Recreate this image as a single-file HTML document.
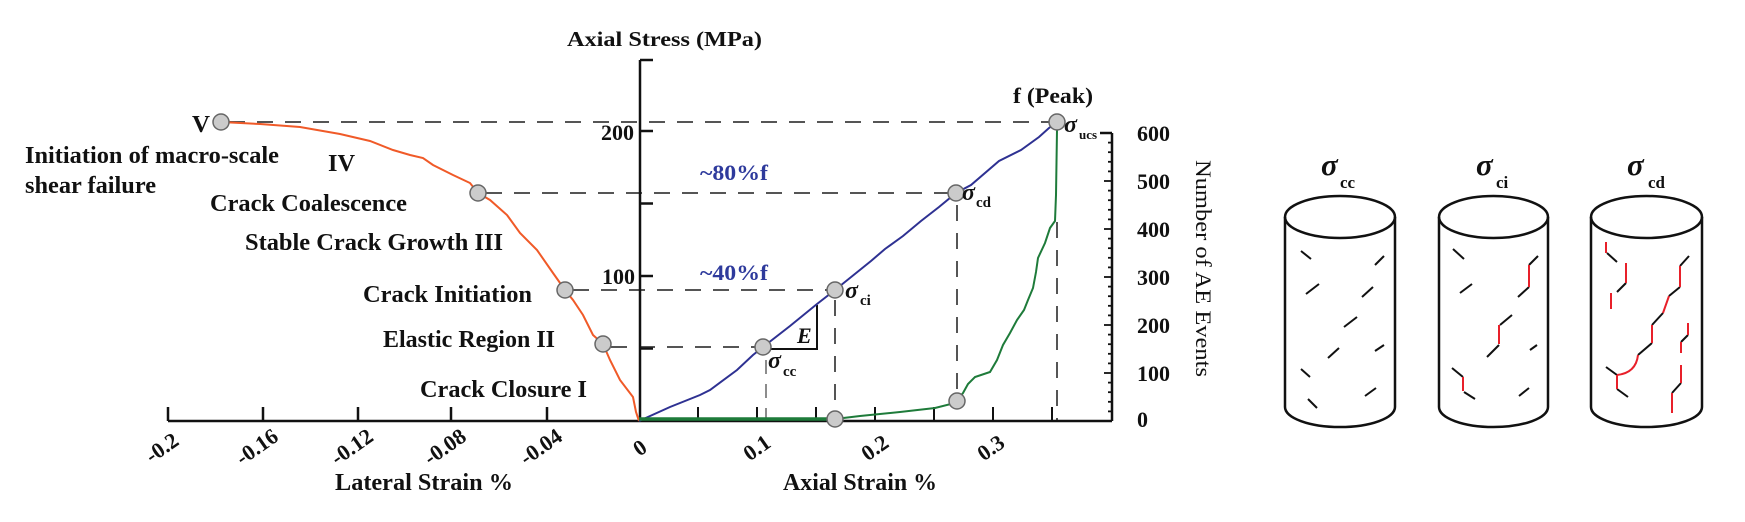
<!DOCTYPE html>
<html><head><meta charset="utf-8"><style>
html,body{margin:0;padding:0;background:#fff;}
svg{display:block;}
text{font-family:"Liberation Serif",serif;}
.b{font-weight:bold;fill:#111;}
</style></head><body>
<svg width="1745" height="522" viewBox="0 0 1745 522" xmlns="http://www.w3.org/2000/svg">
<rect width="1745" height="522" fill="#fff"/>
<!-- dashed guide lines -->
<g stroke="#555" stroke-width="2" stroke-dasharray="16 12" fill="none">
<line x1="229" y1="122" x2="1049" y2="122"/>
<line x1="486" y1="193" x2="948" y2="193"/>
<line x1="573" y1="290" x2="827" y2="290"/>
<line x1="611" y1="347" x2="755" y2="347"/>
<line x1="835" y1="300" x2="835" y2="411"/>
<line x1="957" y1="205" x2="957" y2="392"/>
<line x1="1057" y1="222" x2="1057" y2="421"/>
</g>
<line x1="766" y1="360" x2="766" y2="421" stroke="#666" stroke-width="1.5" stroke-dasharray="14 10"/>
<!-- axes -->
<g stroke="#111" stroke-width="2.5" fill="none">
<line x1="168" y1="421" x2="1112" y2="421"/>
<line x1="640" y1="60" x2="640" y2="421"/>
<line x1="640" y1="60" x2="653" y2="60"/>
<line x1="640" y1="131" x2="653" y2="131"/>
<line x1="640" y1="203.5" x2="653" y2="203.5"/>
<line x1="640" y1="276" x2="653" y2="276"/>
<line x1="640" y1="348.5" x2="653" y2="348.5"/>
<line x1="168" y1="407" x2="168" y2="421"/>
<line x1="263" y1="407" x2="263" y2="421"/>
<line x1="358" y1="407" x2="358" y2="421"/>
<line x1="451" y1="407" x2="451" y2="421"/>
<line x1="547" y1="407" x2="547" y2="421"/>
<line x1="698" y1="407" x2="698" y2="421" stroke-width="2"/>
<line x1="757" y1="407" x2="757" y2="421" stroke-width="2"/>
<line x1="816" y1="407" x2="816" y2="421" stroke-width="2"/>
<line x1="875" y1="407" x2="875" y2="421" stroke-width="2"/>
<line x1="934" y1="407" x2="934" y2="421" stroke-width="2"/>
<line x1="993" y1="407" x2="993" y2="421" stroke-width="2"/>
<line x1="1052" y1="407" x2="1052" y2="421" stroke-width="2"/>
<line x1="1112" y1="133" x2="1112" y2="421"/>
<line x1="1100" y1="133" x2="1112" y2="133"/>
</g>
<!-- AE axis ticks -->
<g stroke="#111" stroke-width="1.8">
<line x1="1104" y1="181" x2="1112" y2="181"/>
<line x1="1104" y1="229" x2="1112" y2="229"/>
<line x1="1104" y1="277" x2="1112" y2="277"/>
<line x1="1104" y1="325" x2="1112" y2="325"/>
<line x1="1104" y1="373" x2="1112" y2="373"/>
<line x1="1108" y1="142.6" x2="1112" y2="142.6"/><line x1="1108" y1="152.2" x2="1112" y2="152.2"/><line x1="1108" y1="161.8" x2="1112" y2="161.8"/><line x1="1108" y1="171.4" x2="1112" y2="171.4"/>
<line x1="1108" y1="190.6" x2="1112" y2="190.6"/><line x1="1108" y1="200.2" x2="1112" y2="200.2"/><line x1="1108" y1="209.8" x2="1112" y2="209.8"/><line x1="1108" y1="219.4" x2="1112" y2="219.4"/>
<line x1="1108" y1="238.6" x2="1112" y2="238.6"/><line x1="1108" y1="248.2" x2="1112" y2="248.2"/><line x1="1108" y1="257.8" x2="1112" y2="257.8"/><line x1="1108" y1="267.4" x2="1112" y2="267.4"/>
<line x1="1108" y1="286.6" x2="1112" y2="286.6"/><line x1="1108" y1="296.2" x2="1112" y2="296.2"/><line x1="1108" y1="305.8" x2="1112" y2="305.8"/><line x1="1108" y1="315.4" x2="1112" y2="315.4"/>
<line x1="1108" y1="334.6" x2="1112" y2="334.6"/><line x1="1108" y1="344.2" x2="1112" y2="344.2"/><line x1="1108" y1="353.8" x2="1112" y2="353.8"/><line x1="1108" y1="363.4" x2="1112" y2="363.4"/>
<line x1="1108" y1="382.6" x2="1112" y2="382.6"/><line x1="1108" y1="392.2" x2="1112" y2="392.2"/><line x1="1108" y1="401.8" x2="1112" y2="401.8"/><line x1="1108" y1="411.4" x2="1112" y2="411.4"/>
</g>
<!-- E triangle -->
<polyline points="771,349 817,349 817,305" fill="none" stroke="#111" stroke-width="2"/>
<!-- curves -->
<path d="M221,122 L260,124 L300,127 L340,134 L370,141 L393,150 L410,155 L423,158 L433,165 L453,175 L470,183 L478,193 L490,200 L507,215 L520,233 L537,250 L553,273 L565,290 L573,300 L583,315 L593,335 L603,344 L610,360 L620,380 L633,397 L636,412 L639,421" fill="none" stroke="#f05a28" stroke-width="2"/>
<path d="M639,421 L670,407 L700,395 L710,390 L737,370 L753,355 L763,347 L790,326 L817,304 L835,290 L871,261 L885,249 L903,236 L921,221 L939,207 L956,193 L971,185 L999,161 L1021,150 L1039,137 L1049,128 L1057,122" fill="none" stroke="#2e3192" stroke-width="2"/>
<path d="M639,419 L835,419" stroke="#1e7b3a" stroke-width="3.5" fill="none"/>
<path d="M835,419 L860,416 L900,412 L935,408 L951,404 L957,400 L963,393 L968,384 L975,377 L990,372 L997,360 L1003,345 L1010,333 L1017,320 L1024,310 L1028,300 L1033,288 L1036,272 L1038,258 L1045,243 L1050,228 L1055,221 L1056,195 L1057,130" fill="none" stroke="#1e7b3a" stroke-width="2"/>
<!-- circles -->
<g fill="#cbcbcb" stroke="#666" stroke-width="1.5">
<circle cx="221" cy="122" r="8"/>
<circle cx="478" cy="193" r="8"/>
<circle cx="565" cy="290" r="8"/>
<circle cx="603" cy="344" r="8"/>
<circle cx="763" cy="347" r="8"/>
<circle cx="835" cy="290" r="8"/>
<circle cx="956" cy="193" r="8"/>
<circle cx="1057" cy="122" r="8"/>
<circle cx="835" cy="419" r="8"/>
<circle cx="957" cy="401" r="8"/>
</g>
<!-- left labels -->
<g class="b" font-size="24">
<text x="192" y="132" textLength="18" lengthAdjust="spacingAndGlyphs">V</text>
<text x="25" y="163" textLength="254" lengthAdjust="spacingAndGlyphs">Initiation of macro-scale</text>
<text x="25" y="193" textLength="131" lengthAdjust="spacingAndGlyphs">shear failure</text>
<text x="328" y="171" textLength="27" lengthAdjust="spacingAndGlyphs">IV</text>
<text x="210" y="211" textLength="197" lengthAdjust="spacingAndGlyphs">Crack Coalescence</text>
<text x="245" y="250" textLength="258" lengthAdjust="spacingAndGlyphs">Stable Crack Growth III</text>
<text x="363" y="302" textLength="169" lengthAdjust="spacingAndGlyphs">Crack Initiation</text>
<text x="383" y="347" textLength="172" lengthAdjust="spacingAndGlyphs">Elastic Region II</text>
<text x="420" y="397" textLength="167" lengthAdjust="spacingAndGlyphs">Crack Closure I</text>
<text x="335" y="490" textLength="178" lengthAdjust="spacingAndGlyphs">Lateral Strain %</text>
<text x="783" y="490" textLength="154" lengthAdjust="spacingAndGlyphs">Axial Strain %</text>
</g>
<g class="b" font-size="21">
<text x="567" y="46" textLength="195" lengthAdjust="spacingAndGlyphs">Axial Stress (MPa)</text>
</g>
<g class="b" font-size="22">
<text x="1013" y="103" textLength="80" lengthAdjust="spacingAndGlyphs">f (Peak)</text>
<text x="634" y="140" text-anchor="end">200</text>
<text x="635" y="284" text-anchor="end">100</text>
<text x="1137" y="141">600</text>
<text x="1137" y="189">500</text>
<text x="1137" y="237">400</text>
<text x="1137" y="285">300</text>
<text x="1137" y="333">200</text>
<text x="1137" y="381">100</text>
<text x="1137" y="427">0</text>
</g>
<!-- rotated tick labels -->
<g class="b" font-size="22" text-anchor="middle">
<text transform="translate(162,448) rotate(-35)" dy="7">-0.2</text>
<text transform="translate(257,447) rotate(-35)" dy="7">-0.16</text>
<text transform="translate(352,447) rotate(-35)" dy="7">-0.12</text>
<text transform="translate(445,447) rotate(-35)" dy="7">-0.08</text>
<text transform="translate(541,447) rotate(-35)" dy="7">-0.04</text>
<text transform="translate(640,448) rotate(-35)" dy="7">0</text>
<text transform="translate(757,448) rotate(-35)" dy="7">0.1</text>
<text transform="translate(875,448) rotate(-35)" dy="7">0.2</text>
<text transform="translate(991,448) rotate(-35)" dy="7">0.3</text>
</g>
<text transform="translate(1196,160) rotate(90)" font-size="22" fill="#111" textLength="217" lengthAdjust="spacingAndGlyphs">Number of AE Events</text>
<!-- blue percentages -->
<g font-weight="bold" font-size="22" fill="#2e3a9c">
<text x="700" y="180" textLength="68" lengthAdjust="spacingAndGlyphs">~80%f</text>
<text x="700" y="280" textLength="68" lengthAdjust="spacingAndGlyphs">~40%f</text>
</g>
<!-- sigma labels in chart -->
<g class="b">
<text x="797" y="343" font-size="22" font-style="italic">E</text>
<text x="1064" y="132" font-size="24" font-style="italic">σ</text><text x="1079" y="139" font-size="13">ucs</text>
<text x="962" y="200" font-size="24" font-style="italic">σ</text><text x="976" y="207" font-size="15">cd</text>
<text x="845" y="298" font-size="24" font-style="italic">σ</text><text x="860" y="305" font-size="15">ci</text>
<text x="768" y="368" font-size="24" font-style="italic">σ</text><text x="783" y="376" font-size="15">cc</text>
</g>
<!-- cylinders -->
<g fill="none" stroke="#111" stroke-width="2.5">
<ellipse cx="1340" cy="217" rx="55" ry="21"/>
<path d="M1285,217 L1285,407 A55,20 0 0 0 1395,407 L1395,217"/>
<ellipse cx="1493.5" cy="217" rx="54.5" ry="21"/>
<path d="M1439,217 L1439,407 A54.5,20 0 0 0 1548,407 L1548,217"/>
<ellipse cx="1646.5" cy="217" rx="55.5" ry="21"/>
<path d="M1591,217 L1591,407 A55.5,20 0 0 0 1702,407 L1702,217"/>
</g>
<g class="b">
<text x="1321" y="175" font-size="31" font-style="italic">σ</text><text x="1340" y="188" font-size="17">cc</text>
<text x="1476" y="175" font-size="31" font-style="italic">σ</text><text x="1496" y="188" font-size="17">ci</text>
<text x="1627" y="175" font-size="31" font-style="italic">σ</text><text x="1648" y="188" font-size="17">cd</text>
</g>
<!-- cracks black -->
<g stroke="#111" stroke-width="2" fill="none">
<line x1="1301" y1="251" x2="1311" y2="259"/>
<line x1="1375" y1="265" x2="1384" y2="256"/>
<line x1="1306" y1="294" x2="1319" y2="284"/>
<line x1="1362" y1="297" x2="1373" y2="287"/>
<line x1="1344" y1="327" x2="1357" y2="317"/>
<line x1="1328" y1="358" x2="1339" y2="348"/>
<line x1="1375" y1="351" x2="1384" y2="345"/>
<line x1="1301" y1="369" x2="1310" y2="377"/>
<line x1="1365" y1="396" x2="1376" y2="388"/>
<line x1="1308" y1="399" x2="1317" y2="408"/>

<line x1="1453" y1="249" x2="1464" y2="259"/>
<line x1="1460" y1="293" x2="1472" y2="284"/>
<line x1="1452" y1="368" x2="1463" y2="377"/>
<line x1="1464" y1="392" x2="1475" y2="399"/>
<line x1="1529" y1="265" x2="1538" y2="256"/>
<line x1="1529" y1="287" x2="1518" y2="297"/>
<line x1="1512" y1="315" x2="1500" y2="325"/>
<line x1="1499" y1="345" x2="1487" y2="357"/>
<line x1="1530" y1="350" x2="1537" y2="345"/>
<line x1="1519" y1="396" x2="1529" y2="388"/>

<line x1="1607" y1="253" x2="1617" y2="262"/>
<line x1="1626" y1="283" x2="1617" y2="292"/>
<line x1="1689" y1="256" x2="1680" y2="266"/>
<line x1="1680" y1="287" x2="1669" y2="296"/>
<line x1="1663" y1="313" x2="1652" y2="325"/>
<line x1="1652" y1="343" x2="1638" y2="355"/>
<line x1="1606" y1="367" x2="1617" y2="375"/>
<line x1="1617" y1="389" x2="1628" y2="397"/>
<line x1="1688" y1="335" x2="1681" y2="342"/>
<line x1="1681" y1="383" x2="1672" y2="393"/>
</g>
<!-- cracks red -->
<g stroke="#e8202a" stroke-width="2" fill="none">
<line x1="1463" y1="377" x2="1463" y2="391"/>
<line x1="1529" y1="265" x2="1529" y2="287"/>
<line x1="1499" y1="325" x2="1499" y2="344"/>
<line x1="1606" y1="242" x2="1606" y2="253"/>
<line x1="1626" y1="263" x2="1626" y2="283"/>
<line x1="1611" y1="293" x2="1611" y2="309"/>
<line x1="1680" y1="266" x2="1680" y2="287"/>
<line x1="1669" y1="296" x2="1663" y2="313"/>
<line x1="1652" y1="325" x2="1652" y2="343"/>
<path d="M1638,355 Q1636,373 1617,375"/>
<line x1="1617" y1="375" x2="1617" y2="389"/>
<line x1="1688" y1="323" x2="1688" y2="335"/>
<line x1="1681" y1="342" x2="1681" y2="353"/>
<line x1="1681" y1="365" x2="1681" y2="383"/>
<line x1="1672" y1="393" x2="1672" y2="413"/>
</g>
</svg>
</body></html>
